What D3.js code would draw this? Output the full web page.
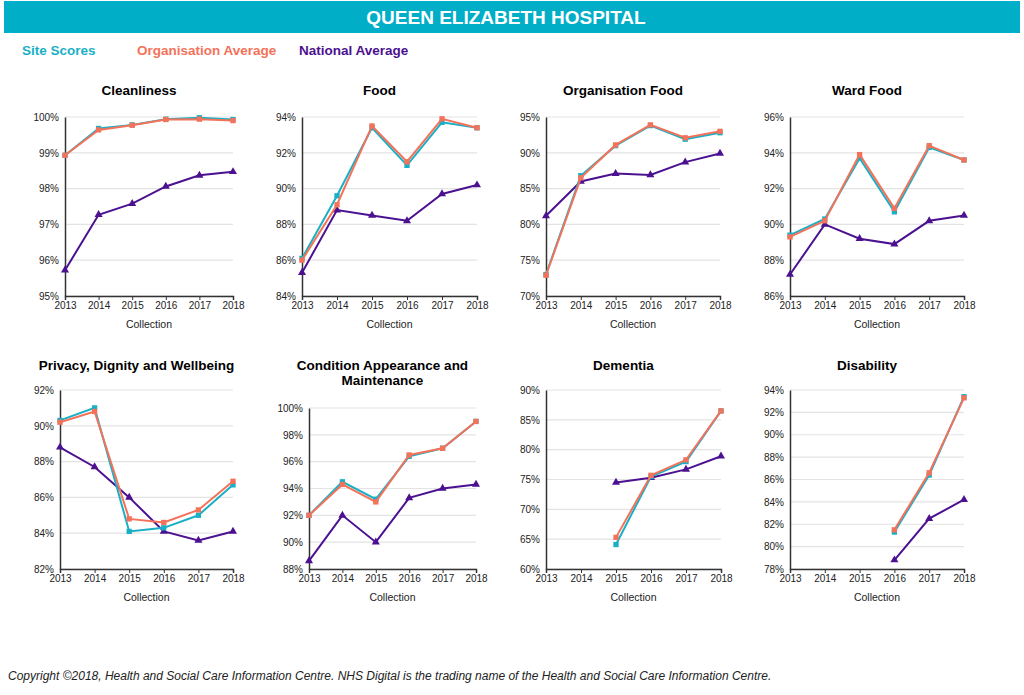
<!DOCTYPE html><html><head><meta charset="utf-8"><script src="https://cdn.jsdelivr.net/npm/d3@7"></script>
<style>body{margin:0;background:#fff;font-family:Arial,"Liberation Sans",sans-serif}</style></head><body><svg id="c" width="1024" height="695"></svg>
<script>
const years=[2013,2014,2015,2016,2017,2018];
const titles=[["Cleanliness"],["Food"],["Organisation Food"],["Ward Food"],["Privacy, Dignity and Wellbeing"],["Condition Appearance and","Maintenance"],["Dementia"],["Disability"]];
const domains=[[95,100],[84,94],[70,95],[86,96],[82,92],[88,100],[60,90],[78,94]];
const tickSteps=[1,2,5,2,2,2,5,2];
const N=null;
const site=[[98.93,99.68,99.78,99.94,99.98,99.93],[86.1,89.6,93.4,91.3,93.7,93.4],[73.0,86.8,91.0,93.8,91.9,92.8],[89.4,90.3,93.7,90.7,94.3,93.6],[90.3,91.0,84.1,84.3,85.0,86.7],[92.0,94.5,93.2,96.4,97.0,99.0],[N,N,64.1,75.5,78.0,86.5],[N,N,N,81.3,86.4,93.4]];
const org=[[98.93,99.64,99.77,99.93,99.94,99.90],[86.0,89.1,93.5,91.5,93.9,93.4],[72.9,86.5,91.1,93.9,92.1,93.0],[89.3,90.2,93.9,90.9,94.4,93.6],[90.2,90.8,84.8,84.6,85.3,86.9],[92.0,94.3,93.0,96.5,97.0,99.0],[N,N,65.3,75.7,78.3,86.5],[N,N,N,81.5,86.6,93.3]];
const nat=[[95.72,97.27,97.58,98.06,98.37,98.47],[85.3,88.8,88.5,88.2,89.7,90.2],[81.2,86.0,87.1,86.9,88.7,89.9],[87.2,90.0,89.2,88.9,90.2,90.5],[88.8,87.7,86.0,84.1,83.6,84.1],[88.6,92.0,90.0,93.3,94.0,94.3],[N,N,74.5,75.3,76.7,78.9],[N,N,N,78.8,82.5,84.2]];
const C={site:"#19b0c6",org:"#f4725a",nat:"#4b1190"};
const panels=[[65,233,117,296],[302,477,117,296],[546,720,117,296],[790,964,117,296],[60,233,390,569],[309,476,408,569],[546,721,390,569],[790,964,390,569]];
const svg=d3.select("#c");
svg.append("rect").attr("x",4).attr("y",1).attr("width",1016).attr("height",32).attr("fill","#00aec7");
svg.append("text").attr("x",506).attr("y",24).attr("text-anchor","middle").attr("fill","#fff").attr("font-weight","bold").attr("font-size",19).text("QUEEN ELIZABETH HOSPITAL");
[["Site Scores",22,C.site],["Organisation Average",137,C.org],["National Average",299,C.nat]].forEach(d=>svg.append("text").attr("x",d[1]).attr("y",55).attr("fill",d[2]).attr("font-weight","bold").attr("font-size",13.5).text(d[0]));
svg.append("text").attr("x",8).attr("y",680).attr("font-style","italic").attr("font-size",12).attr("fill","#222").text("Copyright ©2018, Health and Social Care Information Centre. NHS Digital is the trading name of the Health and Social Care Information Centre.");
panels.forEach((p,i)=>{
 const [x0,x1,y0,y1]=p;
 const g=svg.append("g");
 const x=d3.scalePoint().domain(years).range([x0,x1]);
 const y=d3.scaleLinear().domain(domains[i]).range([y1,y0]);
 const ticks=d3.range(domains[i][0],domains[i][1]+0.001,tickSteps[i]);
 const cx=(x0+x1)/2;
 titles[i].forEach((t,k)=>g.append("text").attr("x",cx-10).attr("y",(i<4?95:370)+k*15).attr("text-anchor","middle").attr("font-weight","bold").attr("font-size",13.5).text(t));
 ticks.forEach(t=>g.append("line").attr("x1",x0).attr("x2",x1).attr("y1",y(t)).attr("y2",y(t)).attr("stroke","#e3e3e3").attr("stroke-width",1.2));
 g.append("g").attr("transform",`translate(${x0},0)`).call(d3.axisLeft(y).tickValues(ticks).tickSize(0).tickPadding(6).tickFormat(d=>d+"%")).call(a=>{a.select(".domain").attr("stroke","#333").attr("stroke-width",1.5);a.selectAll("text").attr("font-size",10).attr("fill","#222").attr("font-family","Arial,Liberation Sans")});
 g.append("g").attr("transform",`translate(0,${y1})`).call(d3.axisBottom(x).tickSize(4).tickPadding(2)).call(a=>{a.select(".domain").attr("stroke","#333").attr("stroke-width",1.5);a.selectAll("line").attr("stroke","#333");a.selectAll("text").attr("font-size",10).attr("fill","#222").attr("font-family","Arial,Liberation Sans")});
 g.append("text").attr("x",cx).attr("y",y1+32).attr("text-anchor","middle").attr("font-size",10.5).attr("fill","#222").text("Collection");
 const line=d3.line().defined(d=>d[1]!=null).x(d=>x(d[0])).y(d=>y(d[1]));
 [[nat[i],C.nat,d3.symbolTriangle],[site[i],C.site,d3.symbolSquare],[org[i],C.org,d3.symbolSquare]].forEach(([vals,col,sym])=>{
  const pts=years.map((yr,k)=>[yr,vals[k]]);
  g.append("path").attr("d",line(pts)).attr("fill","none").attr("stroke",col).attr("stroke-width",2);
  pts.filter(d=>d[1]!=null).forEach(d=>g.append("path").attr("d",d3.symbol(sym,28)()).attr("transform",`translate(${x(d[0])},${y(d[1])})`).attr("fill",col));
 });
});
</script></body></html>
